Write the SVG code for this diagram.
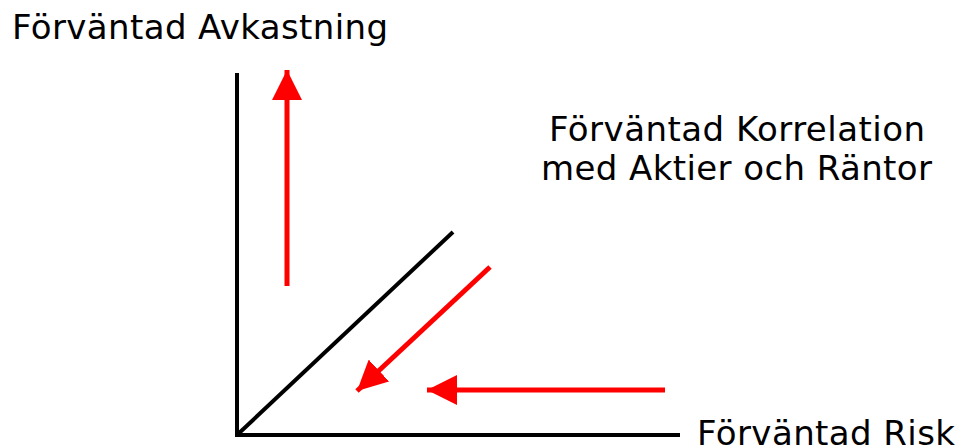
<svg xmlns="http://www.w3.org/2000/svg" width="959" height="447" viewBox="0 0 959 447">
<style>
.t{font-family:"DejaVu Sans",Verdana,sans-serif;font-size:34px;fill:#000}
.ax{stroke:#000;stroke-width:4;fill:none}
.ar{stroke:#f00;stroke-width:5;fill:none}
</style>
<defs>
<marker id="h" markerUnits="userSpaceOnUse" markerWidth="30" markerHeight="30" refX="26" refY="13" orient="auto" viewBox="0 0 26 26">
<path d="M0,0 L26,13 L0,26 Z" fill="#f00"/>
</marker>
</defs>
<rect width="959" height="447" fill="#fff"/>
<g id="axes">
<line class="ax" x1="237" y1="73" x2="237" y2="437"/>
<line class="ax" x1="235" y1="435" x2="680" y2="435"/>
<line class="ax" x1="237" y1="435" x2="453" y2="232"/>
</g>
<g id="connectors">
<line class="ar" x1="287" y1="286" x2="287" y2="70" marker-end="url(#h)"/>
<line class="ar" x1="490" y1="267" x2="357" y2="391" marker-end="url(#h)"/>
<line class="ar" x1="665" y1="390" x2="427" y2="390" marker-end="url(#h)"/>
</g>
<g id="label-return"><text class="t" x="12" y="39" textLength="376">Förväntad Avkastning</text></g>
<g id="label-corr"><text class="t" x="549" y="141" textLength="376">Förväntad Korrelation</text><text class="t" x="541" y="180" textLength="391">med Aktier och Räntor</text></g>
<g id="label-risk"><text class="t" x="697" y="445" textLength="258">Förväntad Risk</text></g>
</svg>
